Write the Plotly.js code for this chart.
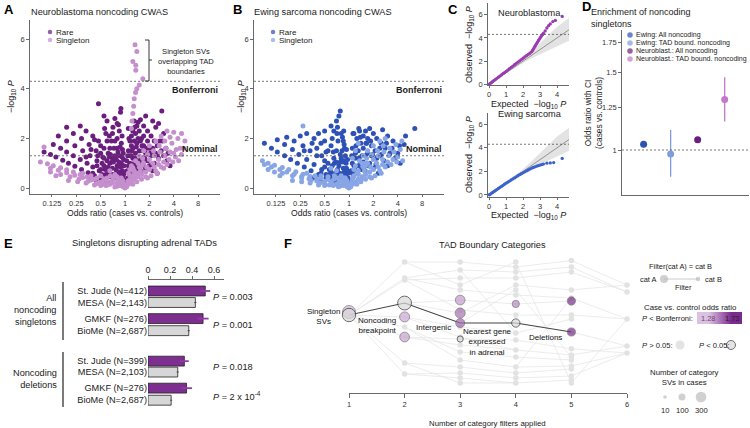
<!DOCTYPE html>
<html><head><meta charset="utf-8">
<script src="https://cdn.plot.ly/plotly-3.0.1.min.js"></script>
<style>html,body{margin:0;padding:0;background:#fff}#chart{width:750px;height:428px}</style>
</head><body><div id="chart"></div>
<script>
// ---------------- DATA ----------------
// A: Neuroblastoma CWAS volcano  [odds ratio, -log10 P]
const nbRare = [
[0.10,1.45],[0.12,1.35],[0.14,1.25],[0.17,1.12],[0.2,1.0],[0.24,0.88],[0.29,0.75],[0.35,0.62],[0.42,0.5],[0.5,0.38],[0.6,0.27],
[0.13,1.75],[0.16,1.6],[0.19,1.45],[0.23,1.3],[0.28,1.15],[0.34,1.0],[0.4,0.85],[0.48,0.7],[0.58,0.55],
[0.15,2.1],[0.19,1.9],[0.24,1.7],[0.3,1.5],[0.37,1.3],[0.45,1.1],[0.55,0.9],
[0.19,2.45],[0.23,2.2],[0.29,2.0],[0.36,1.75],[0.44,1.5],[0.53,1.25],[0.65,1.0],
[0.28,2.5],[0.33,2.3],[0.4,2.1],[0.47,1.9],[0.55,1.6],[0.62,1.4],[0.7,1.2],
[0.47,3.4],[0.55,2.9],[0.6,2.7],[0.75,2.8],[0.8,2.6],[0.85,2.3],[0.89,3.2],[0.88,3.05],[0.7,2.2],[0.75,1.9],[0.8,1.6],[0.85,1.3],[0.9,1.0],[0.93,0.7],[0.95,0.5],[0.97,0.3],
[0.5,1.4],[0.6,1.1],[0.65,1.6],[0.7,0.8],[0.8,0.9],[0.85,0.6],[0.9,0.4],[0.75,1.3],[0.68,1.9],[0.58,2.2],
[0.4,0.6],[0.45,0.9],[0.5,0.75],[0.55,1.2],[0.6,0.5],[0.62,0.85],[0.66,1.35],[0.7,0.55],[0.72,1.05],[0.78,0.75],[0.82,1.45],[0.88,0.85],[0.92,1.25],[0.6,1.9],[0.5,1.7],[0.42,1.95],[0.38,1.55],[0.33,1.25],[0.8,2.0],[0.9,1.8],[0.95,1.4],[0.97,0.9],
[0.36,0.4],[0.44,0.3],[0.52,0.55],[0.57,0.35],[0.63,0.65],[0.67,0.45],[0.74,0.4],[0.77,0.6],[0.83,0.45],[0.87,0.65],[0.91,0.55],[0.94,0.35],[0.96,0.2],[0.46,1.3],[0.52,1.0],[0.57,0.75],[0.64,1.25],[0.69,1.05],[0.73,1.6],[0.78,1.15],[0.84,1.05],[0.87,1.65],[0.93,1.55],[0.96,1.15],[0.98,0.6],[0.71,2.45],[0.83,2.55],[0.92,2.1],[0.56,2.4],[0.64,2.1],
[1.08,0.4],[1.12,0.7],[1.15,1.0],[1.2,1.3],[1.25,1.6],[1.3,1.9],[1.35,2.2],[1.4,2.5],[1.45,2.65],[1.5,2.3],[1.6,2.0],[1.7,1.7],[1.8,1.4],[1.9,1.1],[2.0,0.9],[2.2,0.7],[2.5,0.6],
[1.2,2.1],[1.3,2.7],[1.55,2.75],[1.7,2.5],[1.9,2.3],[2.1,2.1],[2.3,1.9],[2.5,1.7],[2.8,1.5],[3.0,1.3],[3.3,1.1],[3.6,0.9],
[2.85,3.1],[2.6,2.6],[2.4,2.45],[3.0,2.2],[2.2,2.7],[1.8,2.9],
[1.1,1.5],[1.15,1.9],[1.25,1.2],[1.4,0.9],[1.6,1.2],[1.8,0.8],[2.1,1.3],[2.3,1.0],[2.6,1.2],[1.5,1.5],
[2.0,1.6],[1.4,1.8],[1.7,2.1],[3.2,1.6],[2.9,1.9],[3.4,1.4],
[1.1,0.9],[1.15,1.3],[1.2,1.7],[1.3,1.0],[1.35,1.4],[1.45,1.1],[1.55,1.9],[1.65,1.5],[1.75,1.2],[1.9,1.9],[2.05,1.4],[2.2,1.6],[2.4,1.4],[1.25,2.3],[1.45,2.0],[2.7,1.9],[1.05,1.1],[1.1,2.4],
[1.03,0.3],[1.06,0.7],[1.08,1.3],[1.13,0.45],[1.18,0.85],[1.22,1.5],[1.28,0.6],[1.33,1.2],[1.38,1.65],[1.42,0.75],[1.5,1.05],[1.58,0.7],[1.62,1.7],[1.7,0.9],[1.85,1.6],[1.95,1.35],[2.15,0.95],[2.5,1.35],[1.12,2.0],[1.32,2.45]
];
const nbSingleton = [
[0.09,1.05],[0.11,0.98],[0.13,0.9],[0.16,0.82],[0.19,0.74],[0.23,0.65],[0.28,0.55],[0.34,0.45],[0.42,0.35],[0.52,0.25],[0.65,0.15],[0.8,0.07],
[0.1,1.65],[0.12,0.8],[0.15,0.72],[0.19,0.62],[0.24,0.52],[0.3,0.42],[0.38,0.32],[0.48,0.22],[0.6,0.12],
[0.16,0.55],[0.21,0.45],[0.27,0.36],[0.35,0.27],[0.45,0.18],[0.58,0.1],[0.75,0.04],
[0.5,0.5],[0.6,0.4],[0.7,0.3],[0.8,0.2],[0.9,0.1],[0.95,0.05],[1.0,0.0],[0.85,0.35],[0.75,0.55],[0.65,0.7],
[0.92,0.2],[0.88,0.3],[0.8,0.45],[0.7,0.2],[0.6,0.3],[0.55,0.15],
[0.2,0.3],[0.26,0.25],[0.33,0.2],[0.42,0.12],[0.12,0.65],[0.14,0.5],[0.5,0.1],[0.38,0.5],[0.45,0.4],[0.3,0.6],[0.55,0.35],[0.66,0.5],[0.72,0.4],[0.82,0.3],[0.9,0.4],[0.94,0.3],[0.97,0.15],[0.86,0.1],
[1.05,0.05],[1.1,0.15],[1.2,0.25],[1.3,0.35],[1.45,0.45],[1.6,0.55],[1.8,0.65],[2.0,0.75],[2.3,0.85],[2.6,0.95],[3.0,1.05],[3.5,1.15],[4.2,1.25],[5.0,1.35],
[1.15,0.5],[1.3,0.7],[1.5,0.85],[1.7,1.0],[2.0,1.15],[2.3,1.3],[2.7,1.45],[3.2,1.6],[3.8,1.8],[4.5,2.0],[5.0,2.2],[5.5,1.9],[4.8,1.6],[4.0,1.4],
[1.2,0.9],[1.35,1.1],[1.5,1.3],[1.7,1.5],[2.0,1.7],[2.4,1.9],[2.8,2.1],[3.3,2.3],[4.0,2.25],
[1.1,0.6],[1.25,0.8],[1.4,0.6],[2.5,0.6],[3.0,0.8],[1.9,0.4],[1.1,0.3],[1.2,0.4],[1.35,0.5],[1.5,0.6],
[1.08,0.25],[1.15,0.2],[1.25,0.15],[1.4,0.25],[1.6,0.35],[1.8,0.45],[2.1,0.5],[2.4,0.7],[2.8,0.85],[3.3,0.95],[3.9,1.05],[4.6,1.1],[1.3,0.55],[1.55,0.7],[1.85,0.85],[2.2,1.0],[2.6,1.15],[3.1,1.3],[3.6,1.45],[4.3,1.55],[5.3,1.6],[1.45,1.0],[1.65,1.2],[1.9,1.35],[2.25,1.5],[2.65,1.7],[3.1,1.9],[3.6,2.05],[1.6,0.9],[1.15,0.75],
[1.2,2.4],[1.22,2.7],[1.25,3.0],[1.28,3.3],[1.3,3.6],[1.35,3.85],[1.4,4.0],[1.5,4.15],[1.66,4.4],[1.36,4.75],[1.36,4.95],[1.25,5.1],[1.4,5.5],[1.33,5.77]
];
// B: Ewing sarcoma CWAS volcano
const ewRare = [
[0.09,1.8],[0.11,1.6],[0.13,1.45],[0.16,1.3],[0.19,1.15],[0.23,1.0],[0.28,0.85],[0.34,0.7],[0.42,0.55],[0.52,0.4],
[0.13,1.95],[0.16,1.75],[0.2,1.55],[0.24,1.35],[0.3,1.15],[0.37,0.95],[0.46,0.75],[0.57,0.55],
[0.17,2.05],[0.21,1.9],[0.27,1.7],[0.33,1.5],[0.4,1.3],[0.5,1.1],[0.62,0.9],
[0.25,2.1],[0.3,2.2],[0.37,2.0],[0.45,1.8],[0.55,1.5],[0.65,1.2],[0.75,0.9],
[0.5,2.3],[0.6,2.5],[0.65,2.3],[0.7,2.7],[0.75,2.9],[0.78,3.1],[0.72,2.45],[0.8,2.2],[0.85,1.9],[0.88,1.6],[0.9,1.3],[0.92,1.0],[0.95,0.7],[0.97,0.4],[0.98,0.2],
[0.55,1.0],[0.7,1.5],[0.8,1.2],[0.85,0.8],[0.68,0.6],[0.6,1.7],[0.9,0.5],
[0.45,0.6],[0.5,0.85],[0.6,0.65],[0.66,1.0],[0.72,0.75],[0.78,1.05],[0.82,1.5],[0.88,1.1],[0.93,0.8],[0.4,1.6],[0.5,1.9],[0.62,2.0],[0.86,2.3],
[0.36,0.4],[0.44,0.3],[0.52,0.55],[0.57,0.35],[0.63,0.45],[0.67,0.3],[0.74,0.45],[0.77,0.6],[0.83,0.45],[0.87,0.65],[0.91,0.55],[0.94,0.35],[0.96,0.2],[0.46,1.3],[0.52,1.45],[0.57,0.75],[0.64,1.45],[0.69,1.05],[0.73,1.9],[0.78,1.35],[0.84,1.05],[0.87,1.75],[0.93,1.55],[0.96,1.15],[0.98,0.6],[0.71,2.2],[0.83,2.05],[0.42,2.2],[0.35,1.8],[0.28,1.5],
[1.05,0.3],[1.1,0.6],[1.15,0.9],[1.2,1.2],[1.3,1.5],[1.4,1.8],[1.5,2.1],[1.6,2.3],[1.8,2.4],[2.0,2.2],[2.2,2.0],[2.5,1.8],[2.8,1.6],[3.2,1.4],[3.7,1.2],[4.3,1.0],
[1.25,2.0],[1.35,2.3],[1.7,2.0],[1.9,1.7],[2.1,1.5],[2.4,1.3],[2.7,1.1],[3.0,0.9],
[1.1,1.6],[1.2,0.7],[1.4,1.0],[1.6,1.3],[1.8,1.0],[2.0,0.8],[2.3,0.6],
[3.5,1.9],[4.2,1.7],[5.0,2.1],[6.5,2.4],[2.6,2.35],[3.0,2.1],[1.5,1.6],[2.2,1.2],
[1.1,1.0],[1.2,1.4],[1.3,0.9],[1.45,1.3],[1.55,0.9],[1.7,1.4],[1.9,1.3],[2.4,1.6],[1.15,2.2],[1.65,1.8],
[1.03,0.3],[1.06,0.7],[1.08,1.3],[1.13,0.45],[1.18,0.85],[1.22,1.7],[1.28,0.6],[1.33,1.2],[1.38,2.05],[1.42,0.75],[1.5,1.05],[1.58,0.7],[1.62,1.8],[1.7,0.9],[1.85,1.9],[1.95,1.35],[2.15,0.95],[2.5,1.35],[1.12,2.2],[1.32,2.4],[2.9,1.8],[3.4,1.6],[4.0,1.4],[4.8,1.75]
];
const ewSingleton = [
[0.085,1.1],[0.1,1.0],[0.12,0.92],[0.15,0.83],[0.18,0.75],[0.22,0.66],[0.27,0.56],[0.33,0.46],[0.4,0.36],[0.5,0.26],[0.62,0.16],[0.78,0.08],
[0.11,0.85],[0.14,0.75],[0.17,0.65],[0.21,0.56],[0.26,0.46],[0.32,0.37],[0.4,0.28],[0.5,0.19],[0.64,0.1],
[0.15,0.6],[0.2,0.5],[0.26,0.4],[0.34,0.3],[0.44,0.21],[0.57,0.12],[0.74,0.05],
[0.27,2.5],[0.45,0.5],[0.55,0.45],[0.65,0.35],[0.75,0.25],[0.85,0.15],[0.95,0.05],[1.0,0.0],[0.8,0.5],[0.7,0.7],[0.6,0.8],
[0.92,0.25],[0.88,0.4],[0.7,0.15],[0.6,0.25],
[0.2,0.3],[0.26,0.25],[0.33,0.2],[0.42,0.12],[0.12,0.65],[0.14,0.5],[0.5,0.1],[0.38,0.5],[0.45,0.4],[0.3,0.6],[0.55,0.35],[0.66,0.5],[0.72,0.4],[0.82,0.3],[0.9,0.4],[0.94,0.3],[0.97,0.15],[0.86,0.1],[0.1,0.75],[0.09,0.95],
[1.05,0.05],[1.1,0.15],[1.2,0.25],[1.3,0.35],[1.45,0.45],[1.6,0.55],[1.8,0.65],[2.0,0.75],[2.3,0.85],[2.6,0.95],[3.0,1.05],[3.5,1.15],[4.0,1.25],
[1.15,0.5],[1.3,0.7],[1.5,0.85],[1.7,1.0],[2.0,1.15],[2.3,1.3],[2.7,1.45],[3.2,1.6],[3.8,1.75],[4.5,1.9],
[1.2,0.9],[1.35,1.1],[1.5,1.3],[1.7,1.5],[2.0,1.7],[2.4,1.9],[2.8,2.0],
[1.1,0.4],[1.25,0.6],[1.4,0.3],[2.5,0.6],[1.9,0.4],[1.6,1.0],[1.1,1.2],[1.2,1.5],[1.3,1.8],
[1.08,0.25],[1.15,0.2],[1.25,0.15],[1.4,0.25],[1.6,0.35],[1.8,0.45],[2.1,0.5],[2.4,0.7],[2.8,0.85],[3.3,0.95],[3.9,1.05],[4.6,1.1],[1.3,0.55],[1.55,0.7],[1.85,0.85],[2.2,1.0],[2.6,1.15],[3.1,1.3],[3.6,1.45],[4.3,1.55],[1.45,1.0],[1.65,1.2],[1.9,1.35],[2.25,1.5],[2.65,1.7],[1.6,0.9],[1.15,0.75]
];
// C: QQ plots [expected, observed]
const qqNb = [[0.02,0.02],[0.08,0.09],[0.15,0.17],[0.22,0.25],[0.3,0.34],[0.38,0.43],[0.46,0.52],[0.55,0.62],[0.64,0.72],[0.73,0.82],[0.82,0.92],[0.91,1.02],[1.0,1.12],[1.1,1.23],[1.2,1.35],[1.3,1.46],[1.4,1.58],[1.5,1.69],[1.6,1.81],[1.7,1.92],[1.8,2.03],[1.9,2.14],[2.0,2.25],[2.1,2.36],[2.2,2.47],[2.3,2.58],[2.4,2.68],[2.5,2.8],[2.55,2.9],[2.6,3.02],[2.65,3.15],[2.7,3.28],[2.75,3.4],[2.8,3.52],[2.85,3.64],[2.9,3.76],[2.95,3.88],[3.0,4.0],[3.05,4.1],[3.1,4.2],[3.15,4.3],[3.2,4.4],[3.3,4.6],[3.4,4.85],[3.5,5.05],[3.6,5.2],[3.75,5.4],[3.9,5.5],[4.3,5.85]];
const qqEw = [[0.02,0.02],[0.08,0.08],[0.15,0.15],[0.22,0.22],[0.3,0.3],[0.38,0.38],[0.46,0.46],[0.55,0.55],[0.64,0.64],[0.73,0.73],[0.82,0.82],[0.91,0.91],[1.0,1.0],[1.1,1.09],[1.2,1.18],[1.3,1.27],[1.4,1.36],[1.5,1.45],[1.6,1.54],[1.7,1.63],[1.8,1.72],[1.9,1.8],[2.0,1.88],[2.1,1.96],[2.2,2.04],[2.3,2.12],[2.4,2.2],[2.5,2.27],[2.6,2.33],[2.7,2.39],[2.8,2.44],[2.9,2.49],[3.0,2.54],[3.1,2.58],[3.2,2.62],[3.4,2.7],[3.6,2.72],[3.8,2.75],[4.3,3.1]];
const qqBandExp = [0,0.5,1,1.5,2,2.5,3,3.5,4,4.7];
const qqBandHi  = [0,0.55,1.08,1.62,2.2,2.85,3.55,4.3,4.95,5.7];
const qqBandLo  = [0,0.47,0.93,1.4,1.85,2.25,2.6,2.95,3.3,3.75];
const qqDiag = [0,4.7];
// D: enrichment
const dLabels = ['Ewing: All noncoding','Ewing: TAD bound. noncoding','Neuroblast.: All noncoding','Neuroblast.: TAD bound. noncoding'];
const dOR = [1.03,0.98,1.055,1.30];
const dLo = [1.015,0.87,1.04,1.16];
const dHi = [1.045,1.11,1.07,1.46];
// E: singletons disrupting adrenal TADs
const eCohorts = ['St. Jude (N=412)','MESA (N=2,143)','GMKF (N=276)','BioMe (N=2,687)','St. Jude (N=399)','MESA (N=2,103)','GMKF (N=276)','BioMe (N=2,687)'];
const eIsCase = [1,0,1,0,1,0,1,0];
const eValue = [0.52,0.43,0.50,0.37,0.33,0.27,0.35,0.21];
const eErr = [0.045,0.01,0.05,0.01,0.04,0.01,0.05,0.01];
const ePvals = ['0.003','0.001','0.018','2 x 10<sup>-4</sup>'];
// F: TAD boundary categories  [filters applied, row, SV count, odds ratio]
const fPath = [[1,56.1],[2,65.3],[3,49.9],[4,49.9],[5,43]];
const fBonf = [[1,58.4,480,1.32],[2,54.6,260,1.36],[2,39.1,240,1.38],[3,67.6,240,1.40],[3,57.6,260,1.52],[3,49.9,200,1.55],[4,64.6,110,1.45],[5,66.9,160,1.73],[5,43,150,1.73]];
const fNominal = [[1,56.1,520],[2,65.3,560],[3,37.6,70],[4,49.9,160]];
const fOther = [[2,96.9],[2,84.6],[2,83.1],[2,46.8],[2,19.1],[2,10.6],
[3,96.9],[3,90.8],[3,84.6],[3,79.2],[3,75.4],[3,60],[3,46.8],[3,39.1],[3,33],[3,27.6],[3,21.4],[3,16],[3,11.4],[3,7.6],[3,3.7],
[4,96.9],[4,93.1],[4,89.2],[4,84.6],[4,79.2],[4,75.4],[4,71.5],[4,56],[4,42.2],[4,36.8],[4,29.1],[4,23.7],[4,16],[4,11.4],[4,7.6],[4,3.7],
[5,98],[5,93.1],[5,89.2],[5,75.4],[5,69.2],[5,56.1],[5,53],[5,30],[5,25.3],[5,23.7],[5,21.4],[5,16.8],[5,14.5],[5,9.1],[5,6],[5,3.7],
[6,79.2],[6,73.8],[6,53],[6,32.2],[6,26.8]];
const fEdges = [
[1,56,96.9],[1,56,84.6],[1,56,46.8],[1,56,19.1],[1,56,10.6],[1,56,54.6],[1,56,39.1],[1,56,83.1],
[2,96.9,96.9],[2,96.9,79.2],[2,84.6,90.8],[2,84.6,75.4],[2,65.3,67.6],[2,65.3,57.6],[2,54.6,46.8],[2,46.8,27.6],[2,39.1,37.6],[2,19.1,16],[2,19.1,3.7],[2,10.6,11.4],[2,10.6,7.6],[2,83.1,60],[2,46.8,21.4],[2,39.1,33],[2,54.6,39.1],[2,83.1,84.6],
[3,96.9,93.1],[3,90.8,89.2],[3,84.6,84.6],[3,79.2,96.9],[3,75.4,71.5],[3,67.6,64.6],[3,60,56],[3,57.6,79.2],[3,46.8,42.2],[3,37.6,36.8],[3,33,29.1],[3,27.6,23.7],[3,21.4,16],[3,16,11.4],[3,11.4,7.6],[3,7.6,3.7],[3,3.7,3.7],[3,49.9,75.4],[3,39.1,29.1],[3,90.8,42.2],
[4,93.1,98],[4,89.2,93.1],[4,84.6,89.2],[4,79.2,75.4],[4,71.5,69.2],[4,64.6,66.9],[4,56,56.1],[4,42.2,53],[4,36.8,30],[4,29.1,25.3],[4,23.7,21.4],[4,16,16.8],[4,11.4,14.5],[4,7.6,9.1],[4,3.7,6],[4,96.9,3.7],[4,75.4,23.7],[4,16,69.2],
[5,98,79.2],[5,93.1,73.8],[5,75.4,79.2],[5,69.2,53],[5,56.1,53],[5,43,32.2],[5,30,26.8],[5,25.3,32.2],[5,16.8,26.8],[5,9.1,26.8],[5,3.7,53],[5,89.2,73.8]];
const fStepLabels = ['Singleton<br>SVs','Noncoding<br>breakpoint','Intergenic','Nearest gene<br>expressed<br>in adrenal','Deletions'];
const fSizeLegend = [10,100,300];
const fORRange = [1.28,1.73];
const orTicks = [0.125,0.25,0.5,1,2,4,8];

// ---------------- STYLE / LAYOUT ----------------
const W=750,H=428;
const px=v=>v/W, py=v=>1-v/H;
const domX=(a,b)=>[px(a),px(b)];
const domY=(top,bot)=>[py(bot),py(top)];
const C = {nbRare:'#6a1e7e', nbSing:'#c58fce', ewRare:'#2d51b6', ewSing:'#88a5e5', qqNb:'#9a3cb0', qqEw:'#3b62cc', bar:'#7d2f90', barGray:'#d7d7d7', text:'#1a1a1a'};
const dColors = [C.ewRare,'#7e9de0',C.nbRare,'#c27ac8'];
const svSize = n => 2 + 0.5*Math.sqrt(n);
const FONT = 'Liberation Sans, Arial, sans-serif';

const ax = o => Object.assign({showgrid:false, zeroline:false, showline:true, linecolor:'#444', linewidth:0.8,
  ticks:'outside', ticklen:3, tickwidth:0.8, tickcolor:'#444', tickfont:{size:7.5,color:'#333',family:FONT}, fixedrange:true}, o);
const hidden = o => Object.assign({visible:false, fixedrange:true}, o);

const traces = [];
const pts = (arr, xa, ya, color, size) => ({type:'scatter', mode:'markers', x:arr.map(p=>p[0]), y:arr.map(p=>p[1]),
  xaxis:xa, yaxis:ya, marker:{color, size, line:{width:0}}, hoverinfo:'skip', showlegend:false});

// A & B
traces.push(pts(nbRare,'x','y',C.nbRare,5));
traces.push(pts(nbSingleton,'x','y',C.nbSing,5));
traces.push(pts(ewRare,'x2','y2',C.ewRare,5));
traces.push(pts(ewSingleton,'x2','y2',C.ewSing,5));

// C
[['x3','y3',qqNb,C.qqNb],['x4','y4',qqEw,C.qqEw]].forEach(([xa,ya,d,col])=>{
  traces.push({type:'scatter',mode:'lines',x:qqBandExp,y:qqBandLo,xaxis:xa,yaxis:ya,line:{width:0},hoverinfo:'skip',showlegend:false});
  traces.push({type:'scatter',mode:'lines',x:qqBandExp,y:qqBandHi,xaxis:xa,yaxis:ya,line:{width:0},fill:'tonexty',fillcolor:'#e3e3e3',hoverinfo:'skip',showlegend:false});
  traces.push({type:'scatter',mode:'lines',x:qqDiag,y:qqDiag,xaxis:xa,yaxis:ya,line:{color:'#8a8a8a',width:0.9},hoverinfo:'skip',showlegend:false});
  traces.push(pts(d,xa,ya,col,3.3));
});

// D
dLabels.forEach((lab,i)=>{
  traces.push({type:'scatter',mode:'markers',x:[i+1],y:[dOR[i]],xaxis:'x5',yaxis:'y5',
    marker:{color:dColors[i],size:7},
    error_y:{type:'data',symmetric:false,array:[dHi[i]-dOR[i]],arrayminus:[dOR[i]-dLo[i]],color:dColors[i],thickness:1.3,width:0},
    hoverinfo:'skip',showlegend:false});
});

// E
const ePos = [0,1,2.4,3.45,6.1,7.05,8.45,9.5];
[1,0].forEach(c=>{
  const idx = eIsCase.map((v,i)=>v===c?i:-1).filter(i=>i>=0);
  traces.push({type:'bar',orientation:'h',x:idx.map(i=>eValue[i]),y:idx.map(i=>ePos[i]),xaxis:'x6',yaxis:'y6',width:0.86,
    marker:{color:c?C.bar:C.barGray,line:{color:'#222',width:0.8}},
    error_x:{type:'data',array:idx.map(i=>eErr[i]),color:c?'#8f3aa6':'#333',thickness:c?1.8:0.8,width:0},
    hoverinfo:'skip',showlegend:false});
});

// F
const ex=[], ey=[];
fEdges.forEach(e=>{ex.push(e[0],e[0]+1,null); ey.push(e[1],e[2],null);});
traces.push({type:'scatter',mode:'lines',x:ex,y:ey,xaxis:'x7',yaxis:'y7',line:{color:'#e4e4e4',width:0.7},hoverinfo:'skip',showlegend:false,cliponaxis:false});
traces.push({type:'scatter',mode:'markers',x:fOther.map(p=>p[0]),y:fOther.map(p=>p[1]),xaxis:'x7',yaxis:'y7',marker:{color:'#e2e2e2',size:5.5},hoverinfo:'skip',showlegend:false,cliponaxis:false});
traces.push({type:'scatter',mode:'lines',x:fPath.map(p=>p[0]),y:fPath.map(p=>p[1]),xaxis:'x7',yaxis:'y7',line:{color:'#444',width:1.1},hoverinfo:'skip',showlegend:false,cliponaxis:false});
traces.push({type:'scatter',mode:'markers',x:fBonf.map(p=>p[0]),y:fBonf.map(p=>p[1]),xaxis:'x7',yaxis:'y7',
  marker:{size:fBonf.map(p=>svSize(p[2])),color:fBonf.map(p=>p[3]),colorscale:[[0,'#dcc2e2'],[1,'#7a2a8c']],cmin:fORRange[0],cmax:fORRange[1],line:{color:'#555',width:0.8}},
  hoverinfo:'skip',showlegend:false,cliponaxis:false});
traces.push({type:'scatter',mode:'markers',x:fNominal.map(p=>p[0]),y:fNominal.map(p=>p[1]),xaxis:'x7',yaxis:'y7',
  marker:{size:fNominal.map(p=>svSize(p[2])),color:'#d9d9d9',line:{color:'#333',width:1}},hoverinfo:'skip',showlegend:false,cliponaxis:false});

// F colour-scale key
traces.push({type:'heatmap',z:[fORRange],x:[0,1],y:[0],xaxis:'x8',yaxis:'y8',zsmooth:'best',
  colorscale:[[0,'#dcc2e2'],[1,'#7a2a8c']],zmin:fORRange[0],zmax:fORRange[1],showscale:false,hoverinfo:'skip'});

// legend keys (pixel overlay axis)
const keys = [
  [50,32,C.nbRare,4.5,0],[50,40,C.nbSing,4.5,0],
  [273,32,C.ewRare,4.5,0],[273,40,C.ewSing,4.5,0],
  [630,35,dColors[0],5.5,0],[630,43,dColors[1],5.5,0],[630,51,dColors[2],5.5,0],[630,59,dColors[3],5.5,0],
  [664,279,'#bdbdbd',8,0],[698,279,'#bdbdbd',4.5,0],
  [680,345,'#d9d9d9',9,0],[731,345,'#d9d9d9',9,1],
  [665,397,'#bdbdbd',svSize(fSizeLegend[0]),0],[682,397,'#bdbdbd',svSize(fSizeLegend[1]),0],[701,397,'#bdbdbd',svSize(fSizeLegend[2]),0]
];
traces.push({type:'scatter',mode:'markers',x:keys.map(k=>k[0]),y:keys.map(k=>k[1]),xaxis:'x9',yaxis:'y9',
  marker:{color:keys.map(k=>k[2]),size:keys.map(k=>k[3]),line:{color:keys.map(k=>k[4]?'#333':'rgba(0,0,0,0)'),width:1}},hoverinfo:'skip',showlegend:false,cliponaxis:false});

// ---------------- annotations & shapes ----------------
const A = [];
const fnt = (size,extra={}) => Object.assign({size,color:C.text,family:FONT},extra);
const ann = (text,x,y,o={}) => A.push(Object.assign({text,x:px(x),y:py(y),xref:'paper',yref:'paper',showarrow:false,
  xanchor:'left',yanchor:'middle',font:fnt(8)},o));

// panel letters
[['A',2,9],['B',231,9],['C',446,9],['D',580,7],['E',2,243],['F',282,243]].forEach(([t,x,y])=>ann('<b>'+t+'</b>',x,y,{font:fnt(13,{color:'#000'})}));
// titles
ann('Neuroblastoma noncoding CWAS',29,12,{font:fnt(9.2)});
ann('Ewing sarcoma noncoding CWAS',252,12,{font:fnt(9.2)});
ann('Neuroblastoma',496,13,{font:fnt(9.2)});
ann('Ewing sarcoma',496,114,{font:fnt(9.2)});
ann('Enrichment of noncoding<br>singletons',589,18,{font:fnt(9),align:'left'});
ann('Singletons disrupting adrenal TADs',144,243,{xanchor:'center',font:fnt(9.3)});
ann('TAD Boundary Categories',492,245,{xanchor:'center',font:fnt(9.2)});
// axis titles
const logp = '−log<sub>10</sub> <i>P</i>';
ann(logp,12,97,{xanchor:'center',textangle:-90,font:fnt(9)});
ann(logp,242,97,{xanchor:'center',textangle:-90,font:fnt(9)});
ann('Odds ratio (cases vs. controls)',125,213,{xanchor:'center',font:fnt(8.6)});
ann('Odds ratio (cases vs. controls)',349,213,{xanchor:'center',font:fnt(8.6)});
ann('Observed  '+logp,469,45,{xanchor:'center',textangle:-90,font:fnt(9)});
ann('Observed  '+logp,469,155,{xanchor:'center',textangle:-90,font:fnt(9)});
ann('Expected  '+logp,528,104,{xanchor:'center',font:fnt(9)});
ann('Expected  '+logp,528,216,{xanchor:'center',font:fnt(9)});
ann('Odds ratio with CI<br>(cases vs. controls)',594,113,{xanchor:'center',textangle:-90,font:fnt(8.4)});
ann('Number of category filters applied',488,423,{xanchor:'center',font:fnt(7.8)});
// A/B legends and thresholds
ann('Rare',54,32,{font:fnt(8)}); ann('Singleton',54,40,{font:fnt(8)});
ann('Rare',277,32,{font:fnt(8)}); ann('Singleton',277,40,{font:fnt(8)});
ann('<b>Bonferroni</b>',220,90,{xanchor:'right',font:fnt(9)});
ann('<b>Nominal</b>',220,149,{xanchor:'right',font:fnt(9)});
ann('<b>Bonferroni</b>',444,90,{xanchor:'right',font:fnt(9)});
ann('<b>Nominal</b>',444,149,{xanchor:'right',font:fnt(9)});
ann('Singleton SVs<br>overlapping TAD<br>boundaries',186,62,{xanchor:'center',font:fnt(7.6)});
// D legend
dLabels.forEach((l,i)=>ann(l,634,35+8*i,{font:fnt(7)}));
// E
ann('All<br>noncoding<br>singletons',59,310,{xanchor:'right',align:'right',font:fnt(9.2)});
ann('Noncoding<br>deletions',59,379,{xanchor:'right',align:'right',font:fnt(9.2)});
[297,325,367,396].forEach((y,i)=>ann('<i>P</i> = '+ePvals[i],211,y,{font:fnt(9.2)}));
// F labels
const fLab = [[323,316],[377,325],[433,327],[488,342],[545,337]];
fStepLabels.forEach((t,i)=>ann(t,fLab[i][0],fLab[i][1],{xanchor:'center',font:fnt(8,{color:'#111'})}));
// F legend
ann('Filter(cat A) = cat B',680,266,{xanchor:'center',font:fnt(7.4)});
ann('cat A',659,279,{xanchor:'right',font:fnt(7.4)});
ann('cat B',703,279,{font:fnt(7.4)});
ann('Filter',683,287,{xanchor:'center',font:fnt(7.4)});
ann('Case vs. control odds ratio',690,307,{xanchor:'center',font:fnt(7.8)});
ann('<i>P</i> < Bonferroni:',695,318,{xanchor:'right',font:fnt(7.6)});
ann(String(fORRange[0]),699,318,{font:fnt(7.4,{color:'#6a4a72'})});
ann(String(fORRange[1]),741,318,{xanchor:'right',font:fnt(7.4,{color:'#222'})});
ann('<i>P</i> > 0.05:',640,345,{font:fnt(7.6)});
ann('<i>P</i> < 0.05:',697,345,{font:fnt(7.6)});
ann('Number of category<br>SVs in cases',684,377,{xanchor:'center',font:fnt(7.8)});
[[665,'10'],[682,'100'],[701,'300']].forEach(([x,t])=>ann(t,x,410,{xanchor:'center',font:fnt(7.6)}));

const S = [];
const dash = (xa,ya,y) => S.push({type:'line',xref:xa+' domain',x0:0,x1:1,yref:ya,y0:y,y1:y,line:{color:'#555',width:0.8,dash:'2px,2px'},layer:'above'});
dash('x','y',4.3); dash('x','y',1.3); dash('x2','y2',4.3); dash('x2','y2',1.3);
dash('x3','y3',4.3); dash('x4','y4',4.3); dash('x5','y5',1);
const pline = (pts,w=0.9,col='#222') => S.push({type:'path',xref:'paper',yref:'paper',
  path:pts.map((p,i)=>(i?'L':'M')+px(p[0])+','+py(p[1])).join(' '),line:{color:col,width:w}});
pline([[145,40],[149,40],[149,81],[145,81]]); pline([[149,60],[152,60]]);
pline([[63,282],[63,340]],1.2); pline([[63,352],[63,407]],1.2);
pline([[664,279],[698,279]],0.8,'#bdbdbd');

// ---------------- LAYOUT ----------------
const layout = {
  width:W,height:H,margin:{l:0,r:0,t:0,b:0},paper_bgcolor:'#fff',plot_bgcolor:'rgba(0,0,0,0)',showlegend:false,
  font:{family:FONT,color:C.text,size:8},
  xaxis: ax({domain:domX(30,220),anchor:'y',type:'log',range:[-1.174,1.174],tickvals:orTicks,ticktext:orTicks.map(String),ticklen:2}),
  yaxis: ax({domain:domY(20,194),anchor:'x',range:[-0.24,6.77],tickvals:[0,2,4,6]}),
  xaxis2: ax({domain:domX(254,444),anchor:'y2',type:'log',range:[-1.174,1.174],tickvals:orTicks,ticktext:orTicks.map(String),ticklen:2}),
  yaxis2: ax({domain:domY(20,194),anchor:'x2',range:[-0.24,6.77],tickvals:[0,2,4,6]}),
  xaxis3: ax({domain:domX(488,569),anchor:'y3',range:[-0.06,4.7],tickvals:[0,1,2,3,4],ticklen:2}),
  yaxis3: ax({domain:domY(3,85),anchor:'x3',range:[-0.05,7.0],tickvals:[0,2,4,6]}),
  xaxis4: ax({domain:domX(488,569),anchor:'y4',range:[-0.06,4.7],tickvals:[0,1,2,3,4],ticklen:2}),
  yaxis4: ax({domain:domY(113,197),anchor:'x4',range:[-0.17,6.95],tickvals:[0,2,4,6]}),
  xaxis5: ax({domain:domX(622,749),anchor:'y5',range:[0.2,4.9],showticklabels:false,ticks:''}),
  yaxis5: ax({domain:domY(30,195),anchor:'x5',type:'log',range:[-0.1016,0.2709],tickvals:[1,1.25,1.5,1.75],ticktext:['1','1.25','1.5','1.75']}),
  xaxis6: ax({domain:domX(148,224),anchor:'y6',side:'top',range:[0,0.69],tickvals:[0,0.2,0.4,0.6],ticktext:['0','0.2','0.4','0.6'],tickfont:{size:9,color:'#222',family:FONT}}),
  yaxis6: ax({domain:domY(280,410),anchor:'x6',range:[10.35,-0.957],showline:false,ticks:'',tickvals:ePos,ticktext:eCohorts,tickfont:{size:9.2,color:'#222',family:FONT}}),
  xaxis7: ax({domain:domX(349,627),anchor:'y7',range:[1,6],tickvals:[1,2,3,4,5,6],ticklen:4}),
  yaxis7: hidden({domain:domY(258,393),anchor:'x7',range:[-4,100]}),
  xaxis8: hidden({domain:domX(697,742),anchor:'y8',range:[-0.5,1.5]}),
  yaxis8: hidden({domain:domY(312,324),anchor:'x8',range:[-0.5,0.5]}),
  xaxis9: hidden({domain:[0,1],anchor:'y9',range:[0,W]}),
  yaxis9: hidden({domain:[0,1],anchor:'x9',range:[H,0]}),
  annotations:A, shapes:S
};
Plotly.newPlot('chart',traces,layout,{staticPlot:true,displayModeBar:false});
</script></body></html>
